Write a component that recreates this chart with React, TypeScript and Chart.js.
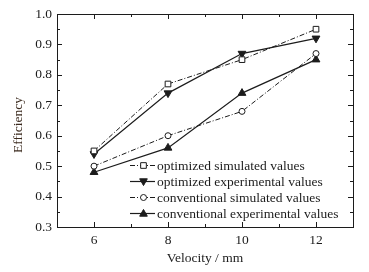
import React, { useEffect, useRef } from "react";
import { Chart, registerables } from "chart.js";

Chart.register(...registerables);

const velocities = [6, 8, 10, 12];
const optimizedSimulated = [0.55, 0.77, 0.85, 0.95];
const optimizedExperimental = [0.54, 0.74, 0.87, 0.92];
const conventionalSimulated = [0.5, 0.6, 0.68, 0.87];
const conventionalExperimental = [0.48, 0.56, 0.74, 0.85];
const seriesNames = [
  "optimized simulated values",
  "optimized experimental values",
  "conventional simulated values",
  "conventional experimental values",
];
const xTitle = "Velocity / mm";
const yTitle = "Efficiency";

const FONT = "'Liberation Serif', 'Times New Roman', serif";
const INK = "#1c1c1c";
const DASHDOT = [5, 2, 1, 2];

const toPts = (vals: number[]) => vals.map((v, i) => ({ x: velocities[i], y: v }));

function drawMarker(ctx: CanvasRenderingContext2D, style: string, x: number, y: number, r: number, rot: number, fill: string) {
  ctx.save();
  ctx.setLineDash([]);
  ctx.lineWidth = 1;
  ctx.strokeStyle = INK;
  ctx.fillStyle = fill;
  ctx.beginPath();
  if (style === "rect") {
    const s = r * Math.SQRT1_2;
    ctx.rect(x - s, y - s, 2 * s, 2 * s);
  } else if (style === "circle") {
    ctx.arc(x, y, r, 0, Math.PI * 2);
  } else {
    const dir = rot === 180 ? -1 : 1;
    const h = r * 1.5;
    const w = r * 1.7;
    ctx.moveTo(x, y - dir * h * 0.6);
    ctx.lineTo(x - w / 2, y + dir * h * 0.4);
    ctx.lineTo(x + w / 2, y + dir * h * 0.4);
    ctx.closePath();
  }
  ctx.fill();
  ctx.stroke();
  ctx.restore();
}

const framePlugin = {
  id: "frame",
  afterDraw(chart: any) {
    const { ctx, chartArea: a, scales } = chart;
    const x = scales.x;
    const y = scales.y;
    ctx.save();
    ctx.strokeStyle = INK;
    ctx.lineWidth = 1;
    ctx.setLineDash([]);
    ctx.strokeRect(Math.round(a.left) + 0.5, Math.round(a.top) + 0.5, Math.round(a.right - a.left), Math.round(a.bottom - a.top));
    ctx.beginPath();
    x.ticks.forEach((t: any) => {
      if (t.value <= x.min || t.value >= x.max) return;
      const px = Math.round(x.getPixelForValue(t.value)) + 0.5;
      const len = t.label !== "" ? 5 : 3;
      ctx.moveTo(px, a.bottom);
      ctx.lineTo(px, a.bottom - len);
      ctx.moveTo(px, a.top);
      ctx.lineTo(px, a.top + len);
    });
    const yt = y.ticks.map((t: any) => t.value);
    const ys: { v: number; major: boolean }[] = [];
    for (let i = 0; i < yt.length; i++) {
      ys.push({ v: yt[i], major: true });
      if (i < yt.length - 1) ys.push({ v: (yt[i] + yt[i + 1]) / 2, major: false });
    }
    ys.forEach(({ v, major }) => {
      if (v <= y.min + 1e-9 || v >= y.max - 1e-9) return;
      const py = Math.round(y.getPixelForValue(v)) + 0.5;
      const len = major ? 5 : 3;
      ctx.moveTo(a.left, py);
      ctx.lineTo(a.left + len, py);
      ctx.moveTo(a.right, py);
      ctx.lineTo(a.right - len, py);
    });
    ctx.stroke();

    // y axis title
    ctx.save();
    ctx.translate(18, (a.top + a.bottom) / 2 + 4.5);
    ctx.rotate(-Math.PI / 2);
    ctx.fillStyle = "#3b2a1e";
    ctx.font = `13.5px ${FONT}`;
    ctx.textAlign = "center";
    ctx.textBaseline = "middle";
    ctx.fillText(yTitle, 0, 0);
    ctx.restore();

    // legend
    const lx0 = 130;
    const lx1 = 155;
    const rows = [165, 181, 197, 213];
    chart.data.datasets.forEach((ds: any, i: number) => {
      const yy = rows[i] + 0.5;
      ctx.save();
      ctx.strokeStyle = INK;
      ctx.lineWidth = ds.borderWidth;
      ctx.setLineDash(ds.borderDash || []);
      ctx.beginPath();
      ctx.moveTo(lx0, yy);
      ctx.lineTo(lx1, yy);
      ctx.stroke();
      ctx.restore();
      drawMarker(ctx, ds.pointStyle, (lx0 + lx1) / 2 + 1, yy, ds.pointRadius, ds.pointRotation || 0, ds.pointBackgroundColor);
      ctx.fillStyle = INK;
      ctx.font = `13.5px ${FONT}`;
      ctx.textBaseline = "middle";
      ctx.textAlign = "left";
      ctx.fillText(ds.label, 157, yy + 0.5);
    });
    ctx.restore();
  },
};

export default function App() {
  const ref = useRef<HTMLCanvasElement | null>(null);
  useEffect(() => {
    document.body.style.margin = "0";
    const canvas = ref.current!;
    const common = { borderColor: INK, pointBorderColor: INK, pointBorderWidth: 1, fill: false, tension: 0 };
    const chart = new Chart(canvas, {
      type: "line",
      data: {
        datasets: [
          { ...common, label: seriesNames[0], data: toPts(optimizedSimulated), borderWidth: 1, borderDash: DASHDOT, pointStyle: "rect", pointRadius: 4, pointBackgroundColor: "#ffffff" },
          { ...common, label: seriesNames[1], data: toPts(optimizedExperimental), borderWidth: 1.2, pointStyle: "triangle", pointRotation: 180, pointRadius: 4.5, pointBackgroundColor: INK },
          { ...common, label: seriesNames[2], data: toPts(conventionalSimulated), borderWidth: 1, borderDash: DASHDOT, pointStyle: "circle", pointRadius: 3, pointBackgroundColor: "#ffffff" },
          { ...common, label: seriesNames[3], data: toPts(conventionalExperimental), borderWidth: 1.2, pointStyle: "triangle", pointRadius: 4.5, pointBackgroundColor: INK },
        ] as any,
      },
      options: {
        animation: false,
        responsive: false,
        devicePixelRatio: 1,
        layout: { padding: { left: 0, top: 14, right: 16, bottom: 0 } },
        plugins: { legend: { display: false }, tooltip: { enabled: false } },
        scales: {
          x: {
            type: "linear",
            min: 5,
            max: 13,
            grid: { display: false, drawTicks: false },
            border: { display: false },
            ticks: {
              stepSize: 1,
              padding: 5,
              color: INK,
              font: { family: FONT, size: 13.5 },
              callback: (v: any) => (v % 2 === 0 && v > 5 && v < 13 ? String(v) : ""),
              maxRotation: 0,
              autoSkip: false,
            },
            title: { display: true, text: xTitle, color: INK, font: { family: FONT, size: 13.5 }, padding: { top: 0, bottom: 5 } },
            afterFit: (s: any) => { s.height = 45; },
          },
          y: {
            type: "linear",
            min: 0.3,
            max: 1.0,
            grid: { display: false, drawTicks: false },
            border: { display: false },
            ticks: {
              stepSize: 0.1,
              padding: 5,
              color: INK,
              font: { family: FONT, size: 13.5 },
              callback: (v: any) => Number(v).toFixed(1),
            },
            title: { display: false },
            afterFit: (s: any) => { s.width = 57; },
          },
        },
      } as any,
      plugins: [framePlugin],
    });
    return () => chart.destroy();
  }, []);
  return (
    <div style={{ position: "absolute", left: 0, top: 0, width: 369, height: 272, background: "#fff" }}>
      <canvas ref={ref} width={369} height={272} style={{ display: "block", width: 369, height: 272 }} />
    </div>
  );
}
